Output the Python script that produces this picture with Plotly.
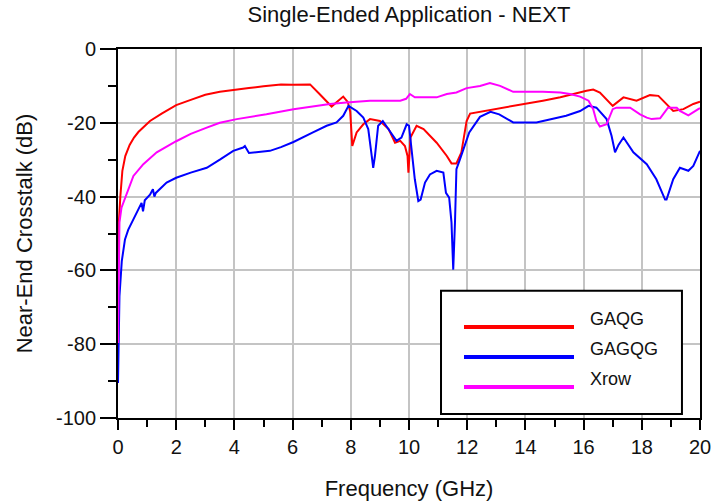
import plotly.graph_objects as go

# Near-end crosstalk (dB) versus frequency (GHz) for three pin-out patterns
series_names = ["GAQG", "GAGQG", "Xrow"]
series_colors = ["#FF0000", "#0000FF", "#FF00FF"]

gaqg_freq = [0, 0.03, 0.08, 0.15, 0.25, 0.4, 0.55, 0.7, 0.9, 1.1, 1.5, 2.0, 2.5, 3.0,
             3.5, 4.0, 4.5, 5.0, 5.6, 6.0, 6.6, 6.9, 7.34, 7.5, 7.74, 7.9, 7.98, 8.05,
             8.2, 8.43, 8.66, 9.0, 9.3, 9.52, 9.7, 9.86, 9.95, 9.98, 10.05, 10.26, 10.5,
             10.95, 11.3, 11.46, 11.63, 11.8, 11.98, 12.1, 12.55, 13.1, 13.58, 14.04,
             14.6, 15.2, 15.64, 16.1, 16.33, 16.56, 17.0, 17.37, 17.82, 18.28, 18.57,
             18.85, 19.08, 19.43, 19.77, 20.0]
gaqg_db = [-57, -47, -40, -33, -29, -26, -24, -22.5, -21, -19.5, -17.5, -15.2, -13.8,
           -12.4, -11.6, -11.0, -10.6, -10.1, -9.6, -9.7, -9.6, -12, -15.6, -14.5, -12.9,
           -14.4, -17, -26.3, -22.6, -20.4, -19, -19.5, -21.7, -25.4, -24.9, -26.3, -29,
           -33.5, -24, -20.8, -21.7, -25.4, -29, -31, -31, -28, -19.5, -17.5, -16.9,
           -16.2, -15.4, -14.9, -14, -13.1, -12.2, -11.3, -11, -11.8, -15.4, -13.1, -14,
           -12.5, -12.7, -14.9, -16.8, -16.3, -14.9, -14.3]

gagqg_freq = [0, 0.05, 0.13, 0.24, 0.35, 0.47, 0.6, 0.7, 0.81, 0.86, 0.92, 1.1, 1.2,
              1.25, 1.3, 1.67, 2.0, 2.5, 3.05, 3.5, 3.96, 4.3, 4.36, 4.5, 5.22, 5.6,
              6.03, 6.7, 7.17, 7.51, 7.74, 7.92, 8.2, 8.43, 8.6, 8.72, 8.77, 8.83, 8.94,
              9.1, 9.35, 9.57, 9.74, 9.92, 10.0, 10.09, 10.2, 10.32, 10.4, 10.55, 10.72,
              10.95, 11.18, 11.27, 11.38, 11.46, 11.52, 11.58, 11.63, 11.75, 11.92,
              12.07, 12.44, 12.8, 13.1, 13.58, 14.38, 14.85, 15.4, 15.88, 16.17, 16.44,
              16.79, 16.96, 17.08, 17.2, 17.37, 17.71, 18.17, 18.5, 18.8, 18.85, 19.08,
              19.31, 19.6, 19.77, 20.0]
gagqg_db = [-90.5, -67, -57.5, -51.6, -49, -47, -45, -43.5, -41.7, -44, -41, -39.5,
            -38, -40, -39, -36.2, -34.9, -33.5, -32.2, -30, -27.6, -26.7, -26.3, -28.2,
            -27.6, -26.6, -25.2, -22.6, -20.8, -19.9, -18.1, -15.4, -16.8, -18.6, -21.7,
            -29, -32.2, -29, -20.8, -19.5, -22.2, -24.9, -24, -20.4, -20.8, -28, -35.3,
            -41.2, -40.8, -36.2, -34, -33, -33.5, -39, -40.3, -47, -59.8, -47, -32.6,
            -29.9, -26.3, -22.6, -18.4, -17, -17.7, -19.9, -19.9, -19.0, -18.1, -16.8,
            -15.4, -15.9, -19, -23.5, -28, -26, -24, -28, -31.2, -35.3, -40.8, -40.8,
            -35.3, -32.2, -33, -31.7, -27.6]

xrow_freq = [0, 0.02, 0.05, 0.12, 0.3, 0.53, 0.87, 1.33, 2.0, 2.5, 3.05, 3.5, 4.08,
             5.1, 6.03, 6.9, 7.28, 7.85, 8.66, 9.7, 9.9, 10.03, 10.2, 10.95, 11.3, 11.63,
             11.98, 12.44, 12.78, 13.13, 13.58, 14.6, 15.2, 15.53, 15.88, 16.17, 16.33,
             16.44, 16.56, 16.79, 17.0, 17.13, 17.6, 17.94, 18.17, 18.34, 18.63, 18.9,
             19.2, 19.31, 19.6, 19.94, 20.0]
xrow_db = [-79.7, -60, -47, -43, -39.4, -34.4, -31.2, -28, -25, -23, -21.3, -20, -19,
           -17.7, -16.3, -15.2, -14.9, -14.5, -14.0, -14, -13.5, -12.2, -13.1, -13.1,
           -12.2, -11.8, -10.6, -10, -9.2, -10, -11.6, -11.6, -11.8, -12.2, -12.9, -14,
           -16.3, -19.5, -21, -20.4, -16.3, -15.9, -15.9, -17.7, -18.6, -19, -18.8,
           -15.9, -15.9, -16.8, -18, -16.3, -16.0]

x_ticks = [0, 2, 4, 6, 8, 10, 12, 14, 16, 18, 20]
y_ticks = [0, -20, -40, -60, -80, -100]
y_tick_labels = ["0", "-20", "-40", "-60", "-80", "-100"]

FONT = "Arial, Liberation Sans, sans-serif"

fig = go.Figure()
for name, color, fx, fy in zip(series_names, series_colors,
                               [gaqg_freq, gagqg_freq, xrow_freq],
                               [gaqg_db, gagqg_db, xrow_db]):
    fig.add_trace(go.Scatter(x=fx, y=fy, mode="lines", name=name,
                             line=dict(color=color, width=2), showlegend=False))

axis_common = dict(
    showline=True, linecolor="black", linewidth=2, mirror=True,
    showgrid=True, gridcolor="#C4C4C4", gridwidth=2,
    ticks="outside", tickcolor="black", tickwidth=2,
    zeroline=False, automargin=False, ticklabeloverflow="allow",
    tickfont=dict(family=FONT, size=20, color="#111"),
)

fig.update_xaxes(range=[0, 20], tickvals=x_ticks, ticklen=10,
                 minor=dict(dtick=1, ticks="outside", ticklen=7, tickcolor="black",
                            tickwidth=2, showgrid=False),
                 title=dict(text="Frequency (GHz)", standoff=24,
                            font=dict(family=FONT, size=22, color="#111")),
                 **axis_common)
fig.update_yaxes(range=[-100, 0], tickvals=y_ticks, ticktext=y_tick_labels, ticklen=16,
                 minor=dict(dtick=10, ticks="outside", ticklen=8, tickcolor="black",
                            tickwidth=2, showgrid=False),
                 title=dict(text="Near-End Crosstalk (dB)", standoff=17,
                            font=dict(family=FONT, size=22, color="#111")),
                 **axis_common)

# Boxed legend with long line samples in the lower right of the plot
legend_box = dict(x0=0.555, x1=0.969, y0=0.011, y1=0.345)
sample_y = [0.2466, 0.1653, 0.0840]
label_y = [0.2683, 0.1870, 0.1057]
fig.add_shape(type="rect", xref="paper", yref="paper", layer="above",
              line=dict(color="black", width=2), fillcolor="white", **legend_box)
for name, color, ly, ty in zip(series_names, series_colors, sample_y, label_y):
    fig.add_shape(type="line", xref="paper", yref="paper", layer="above",
                  x0=0.5945, x1=0.7835, y0=ly, y1=ly, line=dict(color=color, width=4))
    fig.add_annotation(text=name, xref="paper", yref="paper", x=0.8076, y=ty,
                       xanchor="left", yanchor="middle", showarrow=False,
                       font=dict(family=FONT, size=18, color="#111"))

fig.update_layout(
    width=711, height=501,
    margin=dict(l=118, r=11, t=49, b=83),
    paper_bgcolor="white", plot_bgcolor="white",
    title=dict(text="Single-Ended Application - NEXT", x=0.5, xref="paper",
               y=1 - 14 / 501, yanchor="middle",
               font=dict(family=FONT, size=22, color="#111")),
)

fig.write_html("out.html")
